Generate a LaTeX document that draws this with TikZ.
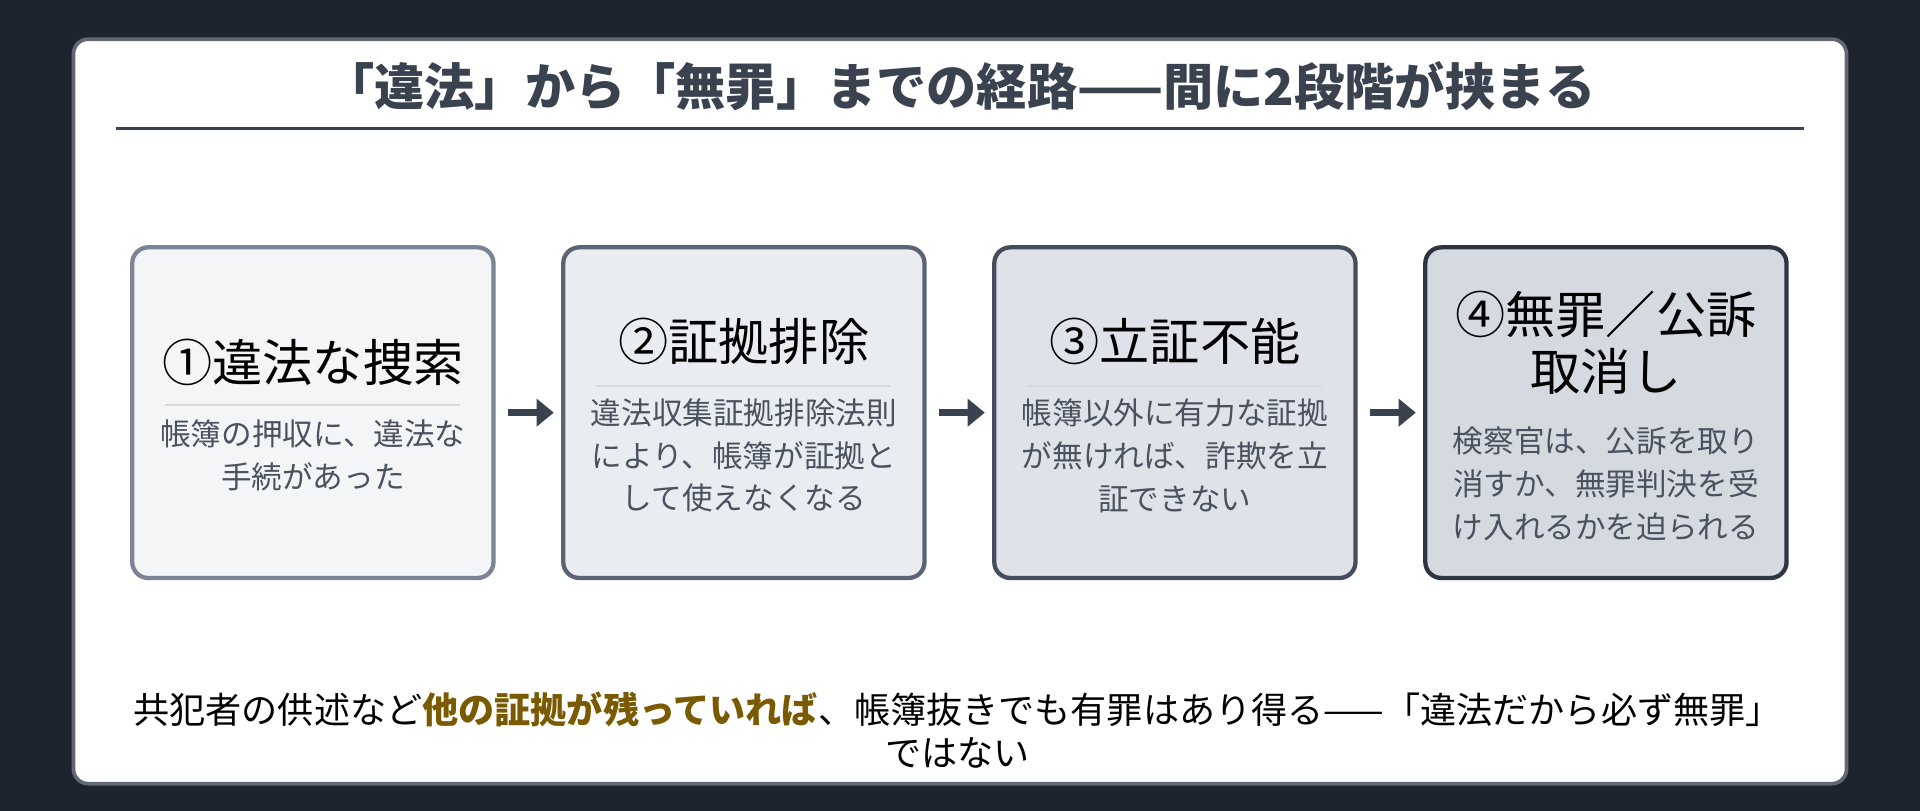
\documentclass[tikz,border=0pt]{standalone}
\usepackage{fontspec}
\setmainfont{Noto Sans CJK JP}
\usetikzlibrary{arrows.meta}
\definecolor{bg}{HTML}{1D2430}
\definecolor{ink}{HTML}{3A4250}
\definecolor{sub}{HTML}{4A5260}
\definecolor{gold}{HTML}{7A5A00}
\definecolor{fa}{HTML}{F4F5F7}\definecolor{fb}{HTML}{E9ECF0}\definecolor{fc}{HTML}{DFE2E8}\definecolor{fd}{HTML}{D5D9E0}
\definecolor{ba}{HTML}{7A8494}\definecolor{bb}{HTML}{5A6474}\definecolor{bc}{HTML}{444D5C}\definecolor{bd}{HTML}{2E3542}
\begin{document}
\begin{tikzpicture}[x=1pt,y=-1pt,
  box/.style={draw,line width=3.5pt,rounded corners=13pt,minimum width=295pt,minimum height=270pt},
  head/.style={font=\fontsize{41}{46}\selectfont,text=black,align=center},
  subt/.style={font=\fontsize{25}{35}\selectfont,text=sub,align=center},
  rule/.style={draw=black!15,line width=1.5pt},
  arr/.style={-{Triangle[length=14pt,width=22pt]},line width=6pt,draw=ink}]
\fill[bg] (0,0) rectangle (1568,662);
\useasboundingbox (0,0) rectangle (1568,662);
\draw[fill=white,draw=ink!80,line width=3pt,rounded corners=12pt] (60,32) rectangle (1508,640);
\node[font=\bfseries\fontsize{41}{48}\selectfont,text=ink] (title) at (784,70) {「違法」から「無罪」までの経路——間に2段階が挟まる};
\draw[ink,line width=1.8pt] (95,105) -- (1473,105);
\node[box,fill=fa,draw=ba] (b1) at (255.5,337) {};
\node[box,fill=fb,draw=bb] (b2) at (607.5,337) {};
\node[box,fill=fc,draw=bc] (b3) at (959.5,337) {};
\node[box,fill=fd,draw=bd] (b4) at (1311.5,337) {};
\node[head] (h1) at (255.5,296) {①違法な捜索};
\draw[rule] (135,331) -- (376,331);
\node[subt] (s1) at (255.5,372) {帳簿の押収に、違法な\\手続があった};
\node[head] (h2) at (607.5,279) {②証拠排除};
\draw[rule] (487,315) -- (728,315);
\node[subt] (s2) at (607.5,372) {違法収集証拠排除法則\\により、帳簿が証拠と\\して使えなくなる};
\node[head] (h3) at (959.5,279) {③立証不能};
\draw[rule] (839,315) -- (1080,315);
\node[subt] (s3) at (959.5,372) {帳簿以外に有力な証拠\\が無ければ、詐欺を立\\証できない};
\node[head] (h4) at (1311.5,280) {④無罪／公訴\\取消し};
\draw[rule] (1191,331) -- (1432,331);
\node[subt] (s4) at (1311.5,395) {検察官は、公訴を取り\\消すか、無罪判決を受\\け入れるかを迫られる};
\draw[arr] ([xshift=10pt]b1.east) -- ([xshift=-6pt]b2.west);
\draw[arr] ([xshift=10pt]b2.east) -- ([xshift=-6pt]b3.west);
\draw[arr] ([xshift=10pt]b3.east) -- ([xshift=-6pt]b4.west);
\node[font=\fontsize{29.5}{35}\selectfont,text=black,align=center] (foot) at (782,596) {共犯者の供述など{\bfseries\color{gold}他の証拠が残っていれば}、帳簿抜きでも有罪はあり得る——「違法だから必ず無罪」\\ではない};
\end{tikzpicture}
\end{document}
